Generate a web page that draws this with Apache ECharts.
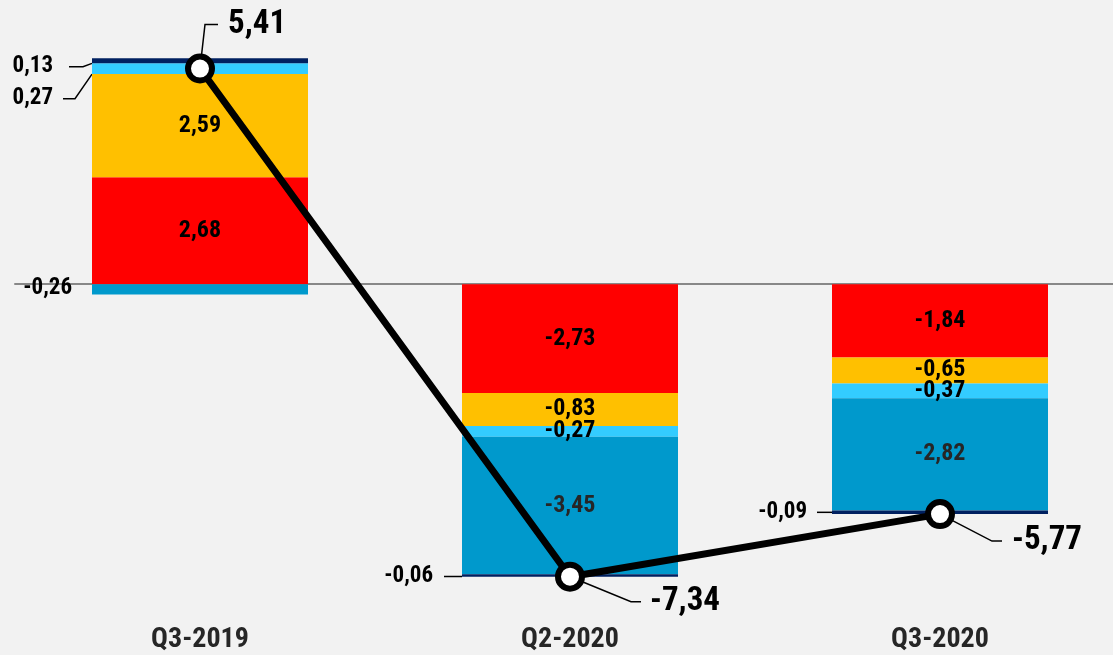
<!DOCTYPE html>
<html><head><meta charset="utf-8">
<script src="https://cdn.jsdelivr.net/npm/echarts@6/dist/echarts.min.js"></script>
<style>html,body{margin:0;padding:0;background:#f2f2f2;} #c{width:1113px;height:655px;}</style>
</head><body><div id="c"></div>
<script>
// ---- data ----
const categories = ['Q3-2019', 'Q2-2020', 'Q3-2020'];
const redValues = [2.68, -2.73, -1.84];
const yellowValues = [2.59, -0.83, -0.65];
const lightBlueValues = [0.27, -0.27, -0.37];
const midBlueValues = [-0.26, -3.45, -2.82];
const navyValues = [0.13, -0.06, -0.09];
const totalValues = [5.41, -7.34, -5.77];

// ---- styling ----
const FONT = "'Liberation Sans Narrow','Arial Narrow','Noto Sans Condensed','Roboto Condensed','Open Sans Condensed','DejaVu Sans Condensed',sans-serif";
const fmt = v => Number(v).toFixed(2).replace('.', ',');

function barSeries(name, values, color, labelColor, outside, extra) {
  outside = outside || {};
  const data = values.map((v, i) => {
    const o = outside[i];
    if (!o) return v;
    return {
      value: v,
      label: {
        padding: [0, o.pad || 0, 0, 0],
        backgroundColor: o.len ? 'rgba(0,0,0,0)' : null,
        color: '#000', fontSize: 23
      },
      labelLine: { show: !!o.len, length2: o.len || 0 }
    };
  });
  return Object.assign({
    name, type: 'bar', stack: 'total', barWidth: 216, clip: false,
    xAxisIndex: 0, yAxisIndex: 0,
    data,
    itemStyle: { color },
    emphasis: { disabled: true },
    label: {
      show: true, position: 'inside', formatter: p => fmt(p.value),
      fontFamily: FONT, fontSize: 24, fontWeight: 'bold', color: labelColor
    },
    labelLine: { show: false, lineStyle: { color: '#000', width: 1.5 } },
    labelLayout: function (p) {
      const o = outside[p.dataIndex];
      if (!o) return {};
      return {
        x: p.rect.x + o.dx,
        y: p.rect.y + p.rect.height / 2 + o.dy,
        align: 'right', verticalAlign: 'middle'
      };
    }
  }, extra || {});
}

const totalOut = [
  { dx: 18, dy: -44, pad: 10, len: 13 },
  { dx: 71, dy: 25, pad: 9, len: 10 },
  { dx: 62, dy: 27, pad: 10, len: 10 }
];

const chart = echarts.init(document.getElementById('c'));
chart.setOption({
  animation: false,
  backgroundColor: '#f2f2f2',
  grid: [
    { left: 200, width: 740, top: 45, height: 558 },
    { left: 15, right: 0, top: 45, height: 558 }
  ],
  xAxis: [
    {
      type: 'category', data: categories, gridIndex: 0, boundaryGap: false,
      axisLine: { show: false }, axisTick: { show: false }, splitLine: { show: false },
      axisLabel: { fontFamily: FONT, fontSize: 28, fontWeight: 'bold', color: '#262626', margin: 23 }
    },
    {
      type: 'category', data: categories, gridIndex: 1, z: 0,
      axisLine: { show: true, onZero: true, lineStyle: { color: '#888888', width: 2 } },
      axisTick: { show: false }, axisLabel: { show: false }, splitLine: { show: false }
    }
  ],
  yAxis: [
    { type: 'value', min: -8, max: 6, show: false, gridIndex: 0 },
    { type: 'value', min: -8, max: 6, show: false, gridIndex: 1 }
  ],
  series: [
    barSeries('red', redValues, '#ff0000', '#000'),
    barSeries('yellow', yellowValues, '#ffc000', '#000'),
    barSeries('lightBlue', lightBlueValues, '#33ccff', '#000', {
      0: { dx: -29, dy: 30, pad: 10, len: 12 }
    }),
    barSeries('midBlue', midBlueValues, '#0099cc', '#262626', {
      0: { dx: -20, dy: -1 }
    }),
    barSeries('navy', navyValues, '#002060', '#000', {
      0: { dx: -23, dy: 6, pad: 16, len: 14 },
      1: { dx: -18, dy: 1, pad: 11, len: 10 },
      2: { dx: -15, dy: 0, pad: 10, len: 12 }
    }),
    {
      name: 'total', type: 'line', z: 5, clip: false,
      xAxisIndex: 0, yAxisIndex: 0,
      data: totalValues.map((v, i) => ({
        value: v,
        label: { padding: [0, 0, 0, totalOut[i].pad] },
        labelLine: { length2: totalOut[i].len }
      })),
      symbol: 'circle', symbolSize: 24,
      lineStyle: { color: '#000', width: 7 },
      itemStyle: { color: '#fff', borderColor: '#000', borderWidth: 6 },
      emphasis: { disabled: true },
      label: {
        show: true, formatter: p => fmt(p.value), backgroundColor: 'rgba(0,0,0,0)',
        fontFamily: FONT, fontSize: 33, fontWeight: 'bold', color: '#000'
      },
      labelLine: { show: true, lineStyle: { color: '#000', width: 1.5 } },
      labelLayout: function (p) {
        const o = totalOut[p.dataIndex];
        const cx = p.rect.x + p.rect.width / 2, cy = p.rect.y + p.rect.height / 2;
        return { x: cx + o.dx, y: cy + o.dy, align: 'left', verticalAlign: 'middle' };
      }
    }
  ]
});
</script></body></html>
